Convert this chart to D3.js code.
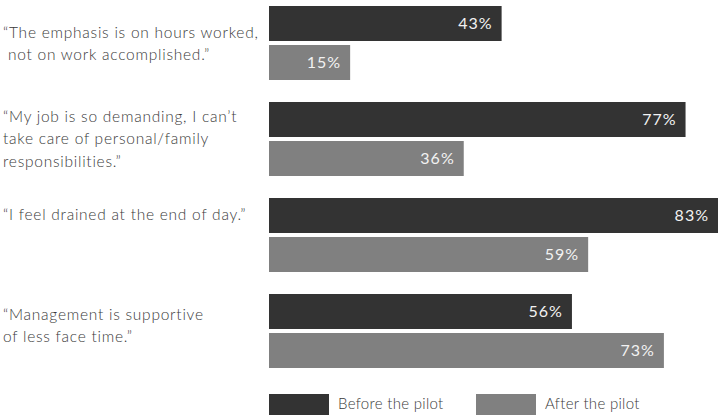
<!DOCTYPE html>
<html>
<head>
<meta charset="utf-8">
<script src="https://cdn.jsdelivr.net/npm/d3@7"></script>
<style>
  body { margin: 0; background: #fff; }
  text { white-space: pre; }
</style>
</head>
<body>
<div id="canvas"></div>
<script>
// Dimension and color constants.
const WIDTH = 719;
const HEIGHT = 415;
const BAR_LEFT = 269;
const BAR_RIGHT = 718;

const BEFORE_COLOR = "#333333";
const AFTER_COLOR = "#808080";
const LABEL_COLOR = "#3a3a3a";
const VALUE_COLOR = "#f2f2f2";
const FONT = "Lato, 'Open Sans', sans-serif";

// Data.
const categories = [
    ["\u201cThe emphasis is on hours worked,", " not on work accomplished.\u201d"],
    ["\u201cMy job is so demanding, I can\u2019t", "take care of personal/family", "responsibilities.\u201d"],
    ["\u201cI feel drained at the end of day.\u201d"],
    ["\u201cManagement is supportive", "of less face time.\u201d"]
];
const beforePilot = [43, 77, 83, 56];
const afterPilot = [15, 36, 59, 73];
const seriesNames = ["Before the pilot", "After the pilot"];

// Where the first line of each quote sits, relative to its group top.
const LABEL_TOP = [28, 16, 18, 22];

const svg = d3.select("#canvas")
    .append("svg")
    .attr("width", WIDTH)
    .attr("height", HEIGHT);

// Scales.
const xScale = d3.scaleLinear()
    .domain([0, d3.max(beforePilot.concat(afterPilot))])
    .range([BAR_LEFT, BAR_RIGHT]);

// Groups are 74px tall on a 96px step.
const yScale = d3.scaleBand()
    .domain(d3.range(categories.length))
    .range([6, 368])
    .paddingInner(22 / 96)
    .paddingOuter(0);

// Two 35px bars with a 4px gap.
const subScale = d3.scaleBand()
    .domain([0, 1])
    .range([0, yScale.bandwidth()])
    .paddingInner(4 / 39);

const rows = categories.map((c, i) => ({
    lines: c,
    values: [beforePilot[i], afterPilot[i]],
    index: i
}));

const groups = svg.selectAll("g.group")
    .data(rows)
    .join("g")
    .attr("class", "group")
    .attr("transform", d => `translate(0, ${yScale(d.index)})`);

// Quote labels on the left.
groups.append("text")
    .attr("x", 3)
    .attr("fill", LABEL_COLOR)
    .attr("font-family", FONT)
    .attr("font-weight", 300)
    .attr("font-size", 15.5)
    .attr("letter-spacing", 0.75)
    .selectAll("tspan")
    .data(d => d.lines.map((line, j) => ({line, j, top: LABEL_TOP[d.index]})))
    .join("tspan")
    .attr("x", 3)
    .attr("y", d => d.top + d.j * 22.5)
    .attr("dominant-baseline", "middle")
    .text(d => d.line);

// Bars.
const bars = groups.selectAll("g.bar")
    .data(d => d.values.map((v, k) => ({v, k})))
    .join("g")
    .attr("class", "bar");

bars.append("rect")
    .attr("x", xScale(0))
    .attr("y", d => subScale(d.k))
    .attr("width", d => xScale(d.v) - xScale(0))
    .attr("height", subScale.bandwidth())
    .attr("fill", d => d.k === 0 ? BEFORE_COLOR : AFTER_COLOR);

bars.append("text")
    .attr("x", d => xScale(d.v) - 9)
    .attr("y", d => subScale(d.k) + subScale.bandwidth() / 2 + 1)
    .attr("text-anchor", "end")
    .attr("dominant-baseline", "middle")
    .attr("fill", VALUE_COLOR)
    .attr("font-family", FONT)
    .attr("font-size", 16)
    .attr("letter-spacing", 1)
    .text(d => d.v + "%");

// Legend.
const legend = svg.selectAll("g.legend")
    .data(seriesNames)
    .join("g")
    .attr("class", "legend")
    .attr("transform", (d, i) => `translate(${BAR_LEFT + i * 207}, 394)`);

legend.append("rect")
    .attr("width", 60)
    .attr("height", 21)
    .attr("fill", (d, i) => i === 0 ? BEFORE_COLOR : AFTER_COLOR);

legend.append("text")
    .attr("x", 69)
    .attr("y", 11)
    .attr("dominant-baseline", "middle")
    .attr("fill", LABEL_COLOR)
    .attr("font-family", FONT)
    .attr("font-weight", 300)
    .attr("font-size", 15)
    .attr("letter-spacing", 0.3)
    .text(d => d);
</script>
</body>
</html>
